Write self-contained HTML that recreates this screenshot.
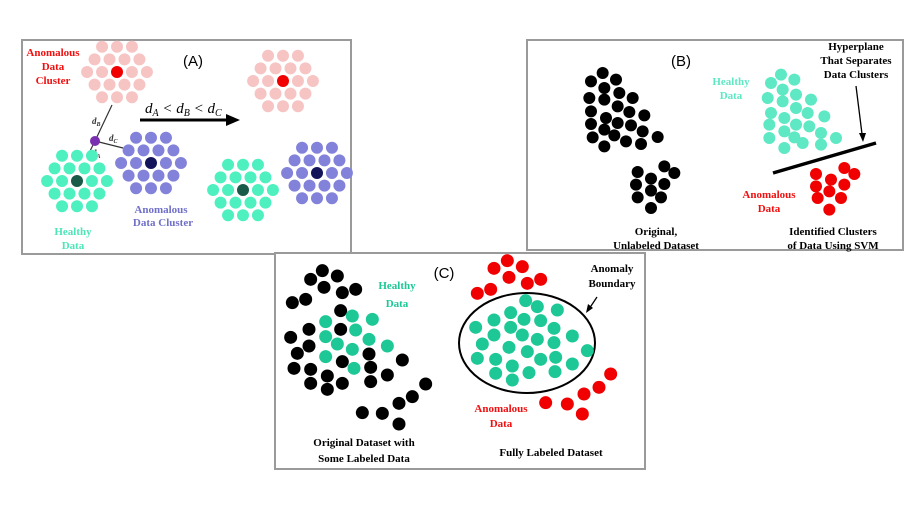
<!DOCTYPE html>
<html><head><meta charset="utf-8"><style>
html,body{margin:0;padding:0;background:#fff;}
svg{display:block;}
text{font-family:"Liberation Serif",serif;font-weight:bold;}
</style></head><body>
<svg id="fig" width="922" height="509" viewBox="0 0 922 509" xmlns="http://www.w3.org/2000/svg">
<rect x="0" y="0" width="922" height="509" fill="#fff"/>
<g>
<rect x="22" y="40" width="329" height="214" fill="#fff" stroke="#9a9a9a" stroke-width="2"/>
<text x="193" y="66" font-size="15" text-anchor="middle" style="font-family:'Liberation Sans',sans-serif;font-weight:normal">(A)</text>
<g fill="#f01010" font-size="11" text-anchor="middle"><text x="53" y="56">Anomalous</text><text x="53" y="70">Data</text><text x="53" y="84">Cluster</text></g>
<g fill="#4ee6b8" font-size="11" text-anchor="middle"><text x="73" y="235">Healthy</text><text x="73" y="249">Data</text></g>
<g fill="#7070c8" font-size="11" text-anchor="middle"><text x="161" y="213">Anomalous</text><text x="163" y="226">Data Cluster</text></g>
<text x="145" y="113" font-size="15" font-style="italic" style="font-weight:normal">d<tspan font-size="10" dy="3">A</tspan><tspan dy="-3"> &lt; d</tspan><tspan font-size="10" dy="3">B</tspan><tspan dy="-3"> &lt; d</tspan><tspan font-size="10" dy="3">C</tspan></text>
<line x1="140" y1="120" x2="228" y2="120" stroke="#000" stroke-width="3"/>
<polygon points="240,120 226,114 226,126" fill="#000"/>
<g stroke="#333" stroke-width="1.2"><line x1="95" y1="141" x2="112" y2="105"/><line x1="95" y1="141" x2="123" y2="148"/><line x1="95" y1="141" x2="90" y2="151"/></g>
<g font-size="9" font-style="italic" fill="#333" style="font-weight:normal"><text x="92" y="124">d<tspan font-size="6" dy="2">B</tspan></text><text x="109" y="141">d<tspan font-size="6" dy="2">C</tspan></text><text x="92" y="156">d<tspan font-size="6" dy="2">A</tspan></text></g>
</g>
<g>
<rect x="527" y="40" width="376" height="210" fill="#fff" stroke="#9a9a9a" stroke-width="2"/>
<text x="681" y="66" font-size="15" text-anchor="middle" style="font-family:'Liberation Sans',sans-serif;font-weight:normal">(B)</text>
<g fill="#5ee8c4" font-size="11" text-anchor="middle"><text x="731" y="85">Healthy</text><text x="731" y="99">Data</text></g>
<g fill="#000" font-size="11" text-anchor="middle"><text x="856" y="50">Hyperplane</text><text x="856" y="64">That Separates</text><text x="856" y="78">Data Clusters</text></g>
<g fill="#f01010" font-size="11" text-anchor="middle"><text x="769" y="198">Anomalous</text><text x="769" y="212">Data</text></g>
<g fill="#000" font-size="11" text-anchor="middle"><text x="656" y="235">Original,</text><text x="656" y="249">Unlabeled Dataset</text></g>
<g fill="#000" font-size="11" text-anchor="middle"><text x="833" y="235">Identified Clusters</text><text x="833" y="249">of Data Using SVM</text></g>
<line x1="773" y1="173" x2="876" y2="143" stroke="#000" stroke-width="3.5"/>
<line x1="856" y1="86" x2="862" y2="134" stroke="#000" stroke-width="1.3"/><polygon points="863,142 859,133 866,133" fill="#000"/>
</g>
<g>
<rect x="275" y="253" width="370" height="216" fill="#fff" stroke="#9a9a9a" stroke-width="2"/>
<text x="444" y="278" font-size="15" text-anchor="middle" style="font-family:'Liberation Sans',sans-serif;font-weight:normal">(C)</text>
<g fill="#1ec896" font-size="11" text-anchor="middle"><text x="397" y="289">Healthy</text><text x="397" y="307">Data</text></g>
<g fill="#000" font-size="11" text-anchor="middle"><text x="612" y="272">Anomaly</text><text x="612" y="287">Boundary</text></g>
<g fill="#f01010" font-size="11" text-anchor="middle"><text x="501" y="412">Anomalous</text><text x="501" y="427">Data</text></g>
<g fill="#000" font-size="11" text-anchor="middle"><text x="364" y="446">Original Dataset with</text><text x="364" y="462">Some Labeled Data</text></g>
<text x="551" y="456" fill="#000" font-size="11" text-anchor="middle">Fully Labeled Dataset</text>
<ellipse cx="527" cy="343" rx="68" ry="50" fill="none" stroke="#000" stroke-width="2"/>
<line x1="597" y1="297" x2="589" y2="309" stroke="#000" stroke-width="1.3"/><polygon points="586,313 588,304 593,308" fill="#000"/>
</g>
<g id="dots"></g>
<circle cx="95" cy="141" r="5" fill="#7a30b0"/>
</svg>
<script>
const ringOffsets=[[0,0],[13,0],[-13,0],[6.5,11],[-6.5,11],[6.5,-11],[-6.5,-11],[26,0],[-26,0],[19.5,11],[-19.5,11],[19.5,-11],[-19.5,-11],[13,22],[-13,22],[0,22],[13,-22],[-13,-22],[0,-22]];
const clustersA=[
 {cx:117,cy:72,fill:"#f7c4c4",center:"#f00000"},
 {cx:283,cy:81,fill:"#f7c4c4",center:"#f00000"},
 {cx:77,cy:181,fill:"#4ef0c0",center:"#1a5a48"},
 {cx:151,cy:163,fill:"#8282da",center:"#14145a"},
 {cx:243,cy:190,fill:"#4ef0c0",center:"#1a5a48"},
 {cx:317,cy:173,fill:"#8282da",center:"#14145a"}
];
const bBlack=[[230,105],[195,130],[270,125],[235,150],[190,180],[235,185],[280,165],[320,180],[195,220],[275,205],[310,222],[355,232],[195,258],[240,240],[275,255],[315,262],[235,275],[200,298],[265,292],[350,280],[395,297],[300,310],[235,325],[345,318],[415,385],[445,405],[335,402],[375,422],[330,440],[415,438],[375,458],[335,478],[405,478],[375,510]];
const bTeal=[[765,110],[735,135],[805,125],[770,155],[725,180],[810,170],[855,185],[770,190],[735,225],[810,210],[845,225],[895,235],[775,240],[730,260],[810,260],[850,265],[885,285],[730,300],[775,280],[830,315],[930,300],[885,320],[775,330],[805,298]];
const bRed=[[955,390],[985,408],[870,408],[915,425],[955,440],[870,445],[910,460],[945,480],[875,480],[910,515]];
const cBlack=[[145,62],[190,78],[110,88],[150,112],[205,128],[245,118],[95,148],[55,158],[200,182],[105,238],[200,238],[50,262],[105,288],[70,310],[205,335],[285,312],[385,330],[60,355],[110,358],[160,378],[290,352],[340,375],[110,400],[160,418],[205,400],[290,395],[455,402],[415,440],[375,460],[265,488],[325,490],[375,522]];
const cTealL=[[235,198],[295,208],[155,215],[245,240],[155,260],[190,282],[235,298],[285,268],[340,288],[155,320],[240,355]];
const cTealR=[[755,152],[790,170],[850,180],[710,188],[660,210],[750,208],[800,212],[605,232],[710,232],[840,235],[660,255],[745,255],[790,268],[895,258],[625,282],[705,292],[760,305],[840,278],[940,302],[610,325],[665,328],[715,348],[800,328],[845,322],[895,342],[665,370],[765,368],[843,365],[715,390]];
const cRed=[[700,32],[745,50],[660,55],[705,82],[800,88],[760,100],[650,118],[610,130],[1010,372],[975,412],[930,432],[815,458],[880,462],[925,492]];

const g=document.getElementById('dots');
const NS="http://www.w3.org/2000/svg";
function dot(x,y,r,f,name){
  const c=document.createElementNS(NS,'circle');
  c.setAttribute('cx',x);c.setAttribute('cy',y);c.setAttribute('r',r);c.setAttribute('fill',f);
  
  
  g.appendChild(c);
}
const spread=1.15;
clustersA.forEach(cl=>{
  ringOffsets.forEach((o,i)=>dot(cl.cx+o[0]*spread,cl.cy+o[1]*spread,6,i===0?cl.center:cl.fill,'cluster-dot'));
});
function plot(arr,ox,oy,r,f,name){arr.forEach(p=>dot(ox+p[0]/3,oy+p[1]/3,r,f,name));}
plot(bBlack,526,38,6,"#000","unlabeled-dot");
plot(bTeal,526,38,6,"#5ee8c4","healthy-dot");
plot(bRed,526,38,6,"#f00000","anomalous-dot");
plot(cBlack,274,250,6.5,"#000","unlabeled-dot");
plot(cTealL,274,250,6.5,"#1ec896","healthy-dot");
plot(cTealR,274,250,6.5,"#1ec896","healthy-dot");
plot(cRed,274,250,6.5,"#f00000","anomalous-dot");
</script>
</body></html>
